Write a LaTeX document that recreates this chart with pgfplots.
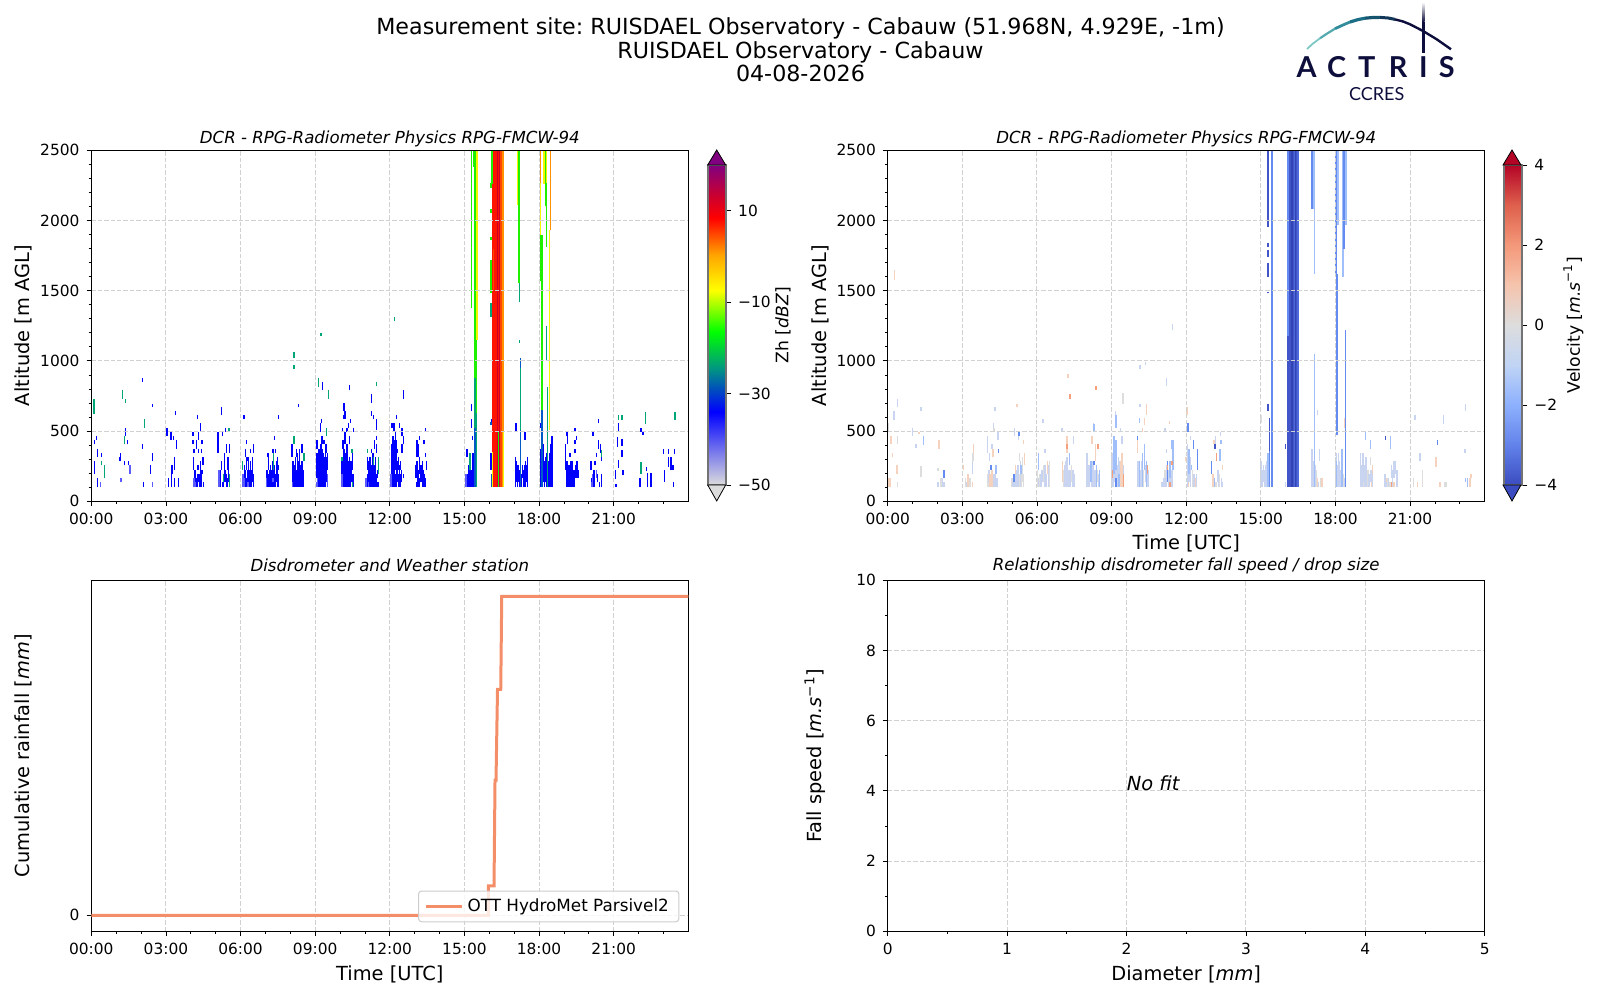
\documentclass[border=0pt]{standalone}
\usepackage{fontspec}
\setmainfont{DejaVu Sans}
\newfontfamily\logofont{Lato}
\usepackage{pgfplots}
\usepackage{pgfplotstable}
\pgfplotsset{compat=1.18}

\definecolor{zl}{RGB}{90,90,255}
\definecolor{zb}{RGB}{0,0,255}
\definecolor{zu}{RGB}{0,90,200}
\definecolor{zt}{RGB}{0,165,120}
\definecolor{zg}{RGB}{30,240,0}
\definecolor{zy}{RGB}{245,245,0}
\definecolor{zo}{RGB}{255,145,0}
\definecolor{zr}{RGB}{255,20,0}
\definecolor{zf}{RGB}{255,70,0}
\definecolor{zd}{RGB}{205,0,45}
\definecolor{vg}{RGB}{221,221,221}
\definecolor{vs}{RGB}{200,212,240}
\definecolor{vb}{RGB}{160,190,250}
\definecolor{vm}{RGB}{100,140,240}
\definecolor{vd}{RGB}{65,85,200}
\definecolor{vi}{RGB}{50,68,180}
\definecolor{vn}{RGB}{78,105,218}
\definecolor{vp}{RGB}{245,210,190}
\definecolor{vo}{RGB}{245,160,125}
\definecolor{rain}{RGB}{243,142,105}
\definecolor{navy}{RGB}{14,14,60}

\newcommand{\ticksize}{\fontsize{7.7}{9}\selectfont}
\newcommand{\labsize}{\fontsize{9.7}{11}\selectfont}
\newcommand{\titsize}{\fontsize{8.3}{10}\selectfont\itshape}
\frenchspacing

\pgfplotstableread{
t lo hi
.2 435 465
.13 405 435
.24 315 375
.4 315 345
.13 195 285
.24 105 165
1.18 285 345
1.14 285 315
1.34 255 285
1.5 255 285
1.38 465 525
1.45 405 435
2.06 375 405
2.47 285 345
2.39 195 255
2.1 105 135
2.06 850 875
2.47 675 695
3.05 465 525
3.2 435 495
3.3 435 465
3.42 375 435
3.35 225 315
3.25 195 255
3.22 105 195
3.1 105 165
3.35 105 165
3.5 105 165
3.39 615 645
4.1 225 315
4.08 465 495
4.08 405 435
4.32 435 495
4.24 375 435
4.45 405 435
4.32 345 370
4.12 345 370
4.42 345 370
4.49 255 315
4.4 225 285
4.29 225 255
4.45 195 225
4.18 135 225
4.26 105 195
4.34 105 195
4.42 105 195
4.5 105 135
4.4 495 555
4.27 585 615
4.14 105 225
4.22 105 165
4.3 135 195
4.38 105 255
5.24 615 675
5.1 345 495
5.4 495 525
5.27 465 495
5.56 345 405
5.44 345 405
5.36 225 345
5.23 225 285
5.5 225 315
5.16 105 195
5.44 105 195
5.47 105 165
5.28 105 135
5.12 105 135
5.2 105 225
5.32 105 135
5.38 135 225
5.52 135 225
6.14 585 615
6.23 405 435
6.2 315 375
6.4 345 375
6.52 345 405
6.23 225 315
6.3 285 315
6.47 225 315
6.4 225 285
6.2 105 225
6.28 105 225
6.35 105 225
6.43 105 225
6.52 105 195
6.16 135 255
6.24 105 165
6.32 105 285
6.39 105 255
6.48 135 255
7.37 435 465
7.53 585 615
7.3 345 375
7.41 345 375
7.1 315 345
7.13 225 315
7.48 255 315
7.08 105 225
7.16 105 225
7.24 105 225
7.32 105 225
7.4 105 195
7.48 105 225
7.53 105 195
7.05 135 225
7.12 105 195
7.2 105 255
7.28 105 285
7.36 105 255
7.44 135 285
7.51 225 255
8.34 675 695
8.07 315 405
8.24 315 375
8.38 315 375
8.47 345 405
8.3 285 345
8.11 225 285
8.2 225 315
8.38 225 315
8.11 105 225
8.19 105 195
8.27 105 225
8.35 105 195
8.43 105 195
8.51 105 225
8.08 105 195
8.15 105 255
8.23 105 225
8.31 135 285
8.39 105 255
8.47 135 285
9.3 793 850
9.25 555 585
9.22 495 555
9.27 405 465
9.07 375 435
9.36 405 435
9.15 345 375
9.25 345 405
9.43 345 405
9.12 105 315
9.18 105 315
9.27 105 345
9.34 105 345
9.41 105 345
9.49 225 345
9.08 165 345
9.15 165 375
9.22 105 405
9.3 105 375
9.38 105 315
9.45 135 315
10.15 640 700
10.2 585 640
10.39 790 825
10.43 555 585
10.33 525 555
10.28 495 525
10.15 585 615
10.1 495 525
10.55 495 525
10.2 405 495
10.39 405 465
10.12 375 435
10.28 315 405
10.18 105 315
10.26 105 315
10.35 105 285
10.43 105 285
10.5 225 345
10.12 105 225
10.08 135 285
10.15 165 375
10.22 105 345
10.3 105 345
10.38 105 315
10.46 135 285
10.52 105 195
11.27 700 765
11.27 610 640
11.35 585 615
11.47 510 585
11.39 375 435
11.47 435 465
11.27 345 375
11.47 345 405
11.1 225 315
11.2 105 315
11.43 225 315
11.12 105 195
11.29 105 225
11.37 105 195
11.45 105 195
11.53 105 135
11.1 105 165
11.16 135 285
11.24 105 255
11.33 105 345
11.41 135 255
11.5 165 225
12.56 730 793
12.28 585 615
12.09 525 555
12.17 495 555
12.39 525 555
12.49 465 525
12.22 375 495
12.13 315 465
12.54 405 465
12.3 345 375
12.49 345 405
12.09 105 375
12.17 105 435
12.25 225 435
12.34 225 315
12.42 225 285
12.25 105 195
12.34 105 195
12.44 105 195
12.55 165 195
12.06 135 405
12.13 105 285
12.2 135 405
12.29 135 285
12.38 105 255
12.47 135 225
13.44 495 525
13.2 435 465
13.38 405 435
13.16 315 405
13.1 315 435
13.43 315 345
13.1 225 285
13.2 195 315
13.31 195 285
13.47 225 285
13.1 105 135
13.18 105 165
13.34 105 225
13.44 105 165
13.06 165 255
13.14 135 225
13.25 135 255
13.4 105 195
15.29 640 695
15.29 525 585
15.32 435 465
15.1 315 375
15.32 225 315
15.4 105 345
15.13 105 195
15.22 105 225
15.31 105 225
15.06 135 195
15.16 105 255
15.25 135 285
15.35 105 345
16.06 225 345
16.1 555 585
17.08 495 555
17.43 435 495
17.05 105 315
17.13 105 255
17.21 105 225
17.3 105 195
17.37 105 225
17.46 105 285
17.54 105 315
17.09 135 285
17.17 135 255
17.25 105 195
17.33 165 255
17.41 105 255
17.5 135 255
18.05 105 375
18.05 525 555
18.14 105 315
18.22 105 285
18.3 105 345
18.38 105 285
18.45 105 405
18.52 105 465
18.09 105 345
18.18 135 405
18.26 135 315
18.34 105 375
18.42 105 345
18.49 135 405
19.13 465 495
19.07 225 405
19.15 405 465
19.25 315 345
19.13 105 285
19.2 105 225
19.28 105 285
19.35 225 285
19.45 405 435
19.5 435 465
19.44 345 375
19.52 225 285
19.37 105 195
19.44 495 525
19.1 135 285
19.17 105 255
19.24 135 255
19.32 105 255
19.4 105 225
19.48 165 255
19.56 165 225
20.16 465 495
20.38 555 585
20.3 315 345
20.38 375 435
20.08 225 285
20.25 255 285
20.48 345 405
20.5 285 315
20.42 105 135
20.5 105 195
20.12 105 165
20.2 105 225
20.35 135 195
21.2 495 555
21.15 385 460
21.33 395 445
21.33 315 365
21.2 235 295
21.07 160 225
21.38 185 220
21.1 105 125
22.1 495 520
22.18 475 495
22.33 215 245
22.05 105 165
22.37 105 205
22.5 105 205
23 340 370
23.2 340 370
23.45 340 370
23.2 245 315
23.3 220 315
23.38 220 255
23.05 135 220
23.4 105 135
}\zhblue

\pgfplotstableread{
t lo hi
.38 105 135
1.2 135 165
1.55 195 255
2.45 105 135
4.12 105 165
4.2 105 135
5.13 105 225
6.1 105 195
6.13 105 165
6.3 105 135
7.05 105 165
7.3 135 165
8.09 105 135
9.1 105 165
9.5 105 195
9.07 105 135
10.08 105 195
11.15 105 135
11.05 105 165
12.05 105 195
15.07 105 195
15.04 105 165
20.15 105 195
20.1 105 135
20.3 165 225
}\zhlight

\pgfplotstableread{
t lo hi
.1 620 730
.4 255 285
.53 165 255
1.34 405 465
1.26 730 790
1.38 700 730
2.14 525 585
5.32 135 195
5.53 495 525
5.56 105 195
6.08 225 285
7.33 225 345
8.14 405 465
8.55 285 345
9.14 815 875
9.54 730 795
9.45 465 520
10.08 285 315
10.48 345 375
10.5 105 135
11.1 345 375
11.35 255 315
11.47 822 852
11.55 195 315
8.15 1020 1065
8.15 940 970
9.23 1176 1200
12.19 1285 1315
22.27 553 637
22.1 197 280
21.2 577 612
21.33 577 612
23.47 577 637
20.5 315 365
15.22 225 345
15.43 520 875
15.48 105 630
17.21 1420 1552
17.25 508 982
17.21 1130 1150
18.33 105 816
18.3 1000 1250
16.06 1315 1410
}\zhteal

\pgfplotstableread{
t lo hi
15.43 105 520
17.25 105 508
17.25 947 1018
18.12 105 650
16.06 540 565
16.08 105 195
}\zhdeep

\pgfplotstableread{
t lo hi
15.29 1374 2500
15.36 2383 2500
15.43 875 2500
15.48 630 1150
16.06 2230 2265
16.06 2050 2085
16.06 1860 1885
16.06 1480 1720
16.11 2260 2500
17.2 1552 2500
18.12 650 1900
18.05 1570 1900
18.3 1813 2264
18.25 2100 2500
}\zhgreen

\pgfplotstableread{
t lo hi
15.5 1150 2500
16.12 105 350
16.57 105 500
17.13 2110 2500
18.05 1900 2264
18.2 2260 2500
18.42 508 1932
18.3 2264 2500
}\zhyellow

\pgfplotstableread{
t lo hi
16.52 105 2500
16.57 500 2500
18.05 2264 2500
18.45 1932 2500
}\zhorange

\pgfplotstableread{
t lo hi
16.12 350 2260
16.17 105 2500
16.22 105 2500
16.27 105 2500
16.37 500 2500
}\zhred

\pgfplotstableread{
t lo hi
16.47 105 2500
16.17 1500 1800
}\zhflame

\pgfplotstableread{
t lo hi
16.32 105 2500
16.42 105 2500
}\zhdark

\pgfplotstableread{
t lo hi
16.37 105 500
}\zhgreenlow

\pgfplotstableread{
t lo hi
.4 105 135
.4 405 465
.02 495 555
2.14 105 165
2.03 215 235
1.34 170 250
3.12 105 165
3.3 105 165
3.43 285 345
4.04 105 195
4.36 105 165
4.28 495 525
4.24 105 165
5 105 165
5.2 105 195
5.3 105 195
5.38 105 195
5.45 105 195
5.3 285 345
5.42 135 315
6.1 105 195
6.26 135 255
6.5 105 285
6.02 105 225
7.06 105 225
7.39 135 255
8.14 135 225
8.44 135 225
9.46 695 770
9.4 105 225
10.29 105 225
11.15 105 225
11.28 105 195
12.25 105 225
13.2 105 135
13.34 105 195
15 555 615
17.2 105 195
17.4 105 165
17.24 105 225
17.42 105 165
18.31 105 195
19.12 105 285
19.3 105 225
19.4 255 315
19.28 105 225
20.1 105 165
20.2 105 135
20.45 105 195
21.13 105 165
21.5 105 225
22.38 105 135
22.45 105 135
}\vgray

\pgfplotstableread{
t lo hi
.25 580 645
.4 675 730
1 465 520
1.14 380 405
1.34 645 675
2.02 105 135
2.2 105 165
2.26 105 135
3.4 195 285
3.17 105 135
4.02 345 465
4.28 105 195
4.1 285 345
4.2 375 405
4.43 435 495
4.32 645 675
4.26 525 555
4.08 135 225
4.16 105 195
4.33 105 225
4.4 105 165
5.06 105 195
5.25 435 495
5.1 465 525
5.03 105 135
5.1 105 165
5.16 105 225
5.24 105 255
5.34 105 285
6.18 105 225
6.33 105 255
6.32 345 375
6.25 555 585
6.06 105 165
6.14 105 195
6.22 135 225
6.3 105 225
6.38 105 195
6.46 105 255
7.1 105 255
7.17 105 285
7.25 105 225
7.35 105 225
7.43 105 225
7.5 105 195
7.47 405 465
7 495 520
7.13 105 255
7.21 105 315
7.29 105 225
7.47 105 225
8.02 105 345
8.1 105 255
8.25 105 255
8.47 105 195
8.27 525 555
8.06 105 225
8.21 105 285
8.29 105 195
8.33 105 225
8.36 105 195
9.02 105 345
9.25 105 255
9.15 615 645
9.35 495 525
9.42 405 465
9.06 105 285
9.13 135 345
9.21 135 255
9.28 195 315
9.33 135 285
9.46 135 255
10.18 105 225
10.47 105 225
10.15 675 695
10.07 105 285
10.15 105 225
10.22 135 285
10.36 135 255
10.44 105 195
11.02 105 135
11.1 105 165
11.3 105 225
11.2 345 375
11.2 823 880
11.14 495 525
11.06 105 135
11.18 105 165
11.22 135 255
11.38 105 225
11.45 105 225
12.05 105 405
12.18 105 285
12.32 105 195
12.17 435 465
12.09 105 285
12.15 135 315
12.36 105 135
12.42 105 195
13.18 375 465
13.3 105 225
13.38 465 495
13.45 105 135
13.05 105 195
13.1 105 165
13.26 135 225
13.42 105 165
15 105 285
15.07 105 225
15.14 105 195
15.2 105 255
15.04 105 225
15.1 135 255
15.17 105 225
15.24 105 285
15.32 105 225
16 105 135
17.05 105 375
17.1 105 225
17.35 285 375
17.28 615 650
17.07 105 225
17.13 135 285
17.18 105 255
17.32 105 135
18.02 105 315
18.12 105 345
18.2 105 225
18.05 105 345
18.08 105 255
18.15 105 285
18.24 105 225
18.36 105 165
19 105 345
19.07 105 225
19.18 105 255
19.25 105 165
19.35 105 195
19.03 105 255
19.1 135 345
19.16 105 225
19.22 135 315
19.33 105 165
19.42 135 225
19.47 105 195
20 105 195
20.25 165 255
20.4 195 285
20.06 105 165
20.14 105 165
20.3 105 225
20.35 165 285
20.47 105 225
21.2 580 612
21.4 285 345
22.35 553 612
23.23 645 695
23.2 345 375
11.45 1220 1260
10.15 940 970
10.36 970 993
}\vpale

\pgfplotstableread{
t lo hi
1.43 400 465
4.36 195 255
5.36 195 255
6.07 225 345
7.3 255 345
8.17 135 285
8.4 105 255
8.52 105 225
8.3 495 550
9.1 195 465
9.17 225 435
9.3 105 195
9.18 525 615
10.12 105 285
10.25 105 345
10.33 225 405
10.4 105 285
10.13 560 590
11.35 165 285
11.47 225 435
11.42 375 435
12.12 195 375
12.22 225 255
13.13 105 165
13.36 285 375
13.4 405 435
15.28 105 345
17.1 2085 2500
17.15 105 1050
17.15 1620 2500
18 1620 2500
18.1 1965 2500
18.05 105 285
18.27 105 375
18.35 1965 2500
18.3 1600 2500
18.42 1965 2500
19.4 375 435
19.2 435 495
20.22 375 465
23.3 105 165
23.23 135 165
}\vlight

\pgfplotstableread{
t lo hi
2.26 165 225
4.16 225 255
4.45 345 375
5.07 135 195
5.27 465 495
8.3 255 285
9.17 105 165
10.05 405 465
11.25 135 285
12.08 495 555
12.3 375 435
12.45 225 375
13.02 195 285
15.35 105 355
15.42 105 2500
15.47 105 2500
16.1 1180 2500
16.52 105 2500
17.05 2085 2500
18.03 1620 2500
18.07 470 1620
18.4 105 1220
18.34 1800 2500
22.1 400 435
}\vmid

\pgfplotstableread{
t lo hi
13.16 375 405
15.28 1955 2500
15.28 1810 1840
15.28 1740 1790
15.28 1600 1695
15.28 1480 1490
15.28 640 695
15.35 355 590
16 375 405
16.15 105 2500
16.2 105 2500
16.3 105 2500
16.45 105 2500
16.1 105 1180
20.02 435 465
}\vdark

\pgfplotstableread{
t lo hi
16.25 105 2500
16.4 105 2500
}\vdeep

\pgfplotstableread{
t lo hi
16.35 105 2500
16.5 105 2500
}\vnavy

\pgfplotstableread{
t lo hi
.05 105 165
.12 105 165
.2 315 345
.13 405 465
.37 195 255
.28 1575 1646
1.26 480 495
2.06 375 435
3.2 105 195
3.25 105 195
3.4 105 135
3.45 345 405
3.05 225 255
4.12 105 195
4.2 105 225
4.24 315 375
5.13 195 255
5.5 255 345
5.45 405 435
5.2 675 695
6.42 195 285
7.02 135 285
7.2 345 465
7.25 880 910
8.35 285 405
8.22 405 465
9.37 105 285
9.42 105 345
10.05 345 435
10.33 540 590
10.4 615 695
10.25 495 525
11.33 550 570
12 285 315
12.03 615 675
12.1 105 135
12.38 105 165
13.08 105 195
13.12 405 435
13.45 225 255
17.28 105 165
17.45 105 165
18.36 525 590
19.45 105 135
19.5 195 255
20.35 105 135
20.05 135 165
21.3 105 135
22.05 245 315
22.2 105 135
23.4 105 165
23.45 165 195
}\vpeach

\pgfplotstableread{
t lo hi
7.2 375 405
7.33 730 765
8.38 793 823
8.45 375 405
9.04 165 225
9.48 105 195
10.45 195 255
11.43 255 285
11.35 105 135
11.25 225 255
13.22 285 345
20.25 105 135
}\vorange

% one coloured column per table row, from lo to hi
\newcommand{\cells}[2]{\addplot[draw=none,mark=none,forget plot,
  error bars/.cd,y dir=plus,y explicit,error mark=none,
  error bar style={solid,line width=.72pt,color=#1}]
  table[x=t,y=lo,y error plus expr=\thisrow{hi}-\thisrow{lo}] {#2};}

\pgfplotsset{
  panel/.style={
    scale only axis,width=298.5pt,height=175.5pt,anchor=south west,
    tick align=outside,tick pos=left,
    axis line style={line width=.5pt},
    major tick length=2.4pt,minor tick length=1.4pt,
    every tick/.style={black,line width=.4pt},
    grid=major,
    major grid style={dash pattern=on 2.2pt off 1pt,line width=.5pt,color=black!18},
    tick label style={font=\ticksize},
    label style={font=\labsize},
    /pgf/number format/assume math mode=true,
    /pgf/number format/1000 sep={},
    title style={font=\titsize,at={(axis description cs:.5,1.037)},anchor=center},
    ylabel style={at={(axis description cs:-.113,.5)},anchor=center},
  },
  timeaxis/.style={
    xmin=0,xmax=24,xtick={0,3,...,21},
    xticklabels={00:00,03:00,06:00,09:00,12:00,15:00,18:00,21:00},
    minor xtick={0,1,...,23},
  },
  radar/.style={
    panel,timeaxis,axis on top,ymin=0,ymax=2500,ytick={0,500,...,2500},
    minor ytick={0,100,...,2500},ylabel={Altitude [m AGL]},
    title={DCR - RPG-Radiometer Physics RPG-FMCW-94},
    title style={yshift=-6.6pt},
  },
  bar/.style={
    colorbar,
    colorbar style={
      at={(parent axis.south east)},anchor=south west,
      xshift=#1,yshift=8.15pt,width=9pt,height=160pt,
      axis line style={color=black!55,line width=.6pt},
      tick label style={font=\ticksize},
      ylabel style={font=\fontsize{8.6}{10}\selectfont,anchor=center},
      tick align=outside,ytick pos=right,yticklabel pos=right,
      major tick length=2.6pt,
      every tick/.style={black,line width=.4pt},
    },
  },
  colormap={zhmap}{rgb255(0pt)=(220,220,220); rgb255(16pt)=(0,0,255); rgb255(25.5pt)=(0,150,130);
    rgb255(33.5pt)=(0,255,0); rgb255(42.6pt)=(255,255,0); rgb255(50.3pt)=(255,165,0);
    rgb255(58.4pt)=(255,0,0); rgb255(63.5pt)=(200,0,50); rgb255(70pt)=(128,0,128)},
  colormap={velmap}{rgb255(0pt)=(59,76,192); rgb255(1pt)=(98,130,234); rgb255(2pt)=(141,176,254);
    rgb255(3pt)=(192,212,245); rgb255(4pt)=(221,221,221); rgb255(5pt)=(245,196,173);
    rgb255(6pt)=(244,152,122); rgb255(7pt)=(222,96,77); rgb255(8pt)=(180,4,38)},
}

\begin{document}
\begin{tikzpicture}[x=1pt,y=1pt]
\path[use as bounding box] (0,0) rectangle (800pt,500pt);

\begin{axis}[radar,at={(45.65pt,249.35pt)},
  colormap name=zhmap,point meta min=-50,point meta max=20,bar=1.3pt,
  colorbar style={ytick={-50,-30,-10,10},yticklabels={−50,−30,−10,10},
    ylabel={Zh [\textit{dBZ}]},ylabel style={at={(axis description cs:4.17,.5)}}},
]
\cells{zb}{\zhblue}
\cells{zl}{\zhlight}
\cells{zt}{\zhteal}
\cells{zu}{\zhdeep}
\cells{zg}{\zhgreen}
\cells{zy}{\zhyellow}
\cells{zo}{\zhorange}
\cells{zr}{\zhred}
\cells{zf}{\zhflame}
\cells{zd}{\zhdark}
\cells{zg}{\zhgreenlow}
\end{axis}

\begin{axis}[radar,at={(443.85pt,249.35pt)},
  xlabel={Time [UTC]},xlabel style={at={(axis description cs:.5,-.12)},anchor=center},
  colormap name=velmap,point meta min=-4,point meta max=4,bar=1.15pt,
  colorbar style={ytick={-4,-2,0,2,4},yticklabels={−4,−2,0,2,4},
    ylabel={Velocity [\textit{m.s}\textsuperscript{−1}]},ylabel style={at={(axis description cs:3.85,.5)}}},
]
\cells{vg}{\vgray}
\cells{vs}{\vpale}
\cells{vb}{\vlight}
\cells{vm}{\vmid}
\cells{vd}{\vdark}
\cells{vi}{\vdeep}
\cells{vn}{\vnavy}
\cells{vp}{\vpeach}
\cells{vo}{\vorange}
\end{axis}

\begin{axis}[panel,timeaxis,at={(45.65pt,34.35pt)},
  title={Disdrometer and Weather station},
  title style={at={(axis description cs:.5,1.034)},yshift=-4.6pt},
  ymin=-.05,ymax=1.05,ytick={0},
  xlabel={Time [UTC]},xlabel style={at={(axis description cs:.5,-.1225)},anchor=center},
  ylabel={Cumulative rainfall [\textit{mm}]},
  legend style={at={(axis description cs:.985,.0256)},anchor=south east,
    font=\fontsize{8.4}{10}\selectfont,draw=black!20,fill=white,fill opacity=.8,text opacity=1,
    rounded corners=1.5pt,line width=.5pt,inner xsep=3pt,inner ysep=1.75pt},
  legend cell align=left,
  legend image code/.code={\draw[#1] (0cm,0cm) -- (18pt,0cm);},
]
\addplot[color=rain,line width=1.5pt,line join=miter] coordinates {
  (0,0)(15.96,0)(15.96,.092)(16.19,.092)(16.23,.424)(16.27,.424)
  (16.33,.708)(16.46,.708)(16.5,1)(24,1)};
\addlegendentry{OTT HydroMet Parsivel2}
\end{axis}

\begin{axis}[panel,at={(443.85pt,34.35pt)},
  title={Relationship disdrometer fall speed / drop size},
  title style={at={(axis description cs:.5,1.034)},yshift=-4.6pt},
  xmin=0,xmax=5,ymin=0,ymax=10,
  xtick={0,1,...,5},ytick={0,2,...,10},
  minor xtick={0,.5,...,5},minor ytick={0,1,...,10},
  xlabel={Diameter [\textit{mm}]},xlabel style={at={(axis description cs:.5,-.1225)},anchor=center},
  ylabel={Fall speed [\textit{m.s}\textsuperscript{−1}]},
  ylabel style={at={(axis description cs:-.1215,.5)}},
]
\node[anchor=base west,inner sep=0pt,font=\fontsize{9.7}{11}\selectfont\itshape] at (axis cs:2,4) {No fit};
\end{axis}

% everything below is placed in reference pixels, from the top left corner
\begin{scope}[x=.5pt,y=-.5pt,yshift=500pt]
\node[anchor=base,inner sep=0pt,font=\fontsize{11.1}{13}\selectfont] at (800.5,34.7) {Measurement site: RUISDAEL Observatory - Cabauw (51.968N, 4.929E, -1m)};
\node[anchor=base,inner sep=0pt,font=\fontsize{11.1}{13}\selectfont] at (800.5,58.2) {RUISDAEL Observatory - Cabauw};
\node[anchor=base,inner sep=0pt,font=\fontsize{11.1}{13}\selectfont] at (800.5,81.6) {04-08-2026};

% colour bar end caps
\filldraw[fill={rgb,255:red,128;green,0;blue,128},draw=black,line width=.4pt] (707.7,165)--(716.7,150)--(725.7,165)--cycle;
\filldraw[fill={rgb,255:red,220;green,220;blue,220},draw=black,line width=.4pt] (707.7,485)--(716.7,501)--(725.7,485)--cycle;
\filldraw[fill={rgb,255:red,180;green,4;blue,38},draw=black,line width=.4pt] (1503,165)--(1512,150)--(1521,165)--cycle;
\filldraw[fill={rgb,255:red,59;green,76;blue,192},draw=black,line width=.4pt] (1503,485)--(1512,501)--(1521,485)--cycle;

% logo
\draw[line width=.9pt,color={rgb,255:red,125;green,200;blue,198}] (1307,49)--(1313,43.5)--(1320,38.3);
\draw[line width=1.1pt,color={rgb,255:red,85;green,170;blue,175}] (1320,38.3)--(1328,33)--(1335,28.7);
\draw[line width=1.4pt,color={rgb,255:red,50;green,140;blue,155}] (1335,28.7)--(1343,25)--(1350,22);
\draw[line width=1.6pt,color={rgb,255:red,28;green,110;blue,135}] (1350,22)--(1358,19.6)--(1365,18.2);
\draw[line width=1.6pt,color={rgb,255:red,22;green,85;blue,112}] (1365,18.2)--(1373,17.5)--(1380,17.4);
\draw[line width=1.5pt,color={rgb,255:red,18;green,55;blue,88}] (1380,17.4)--(1388,18)--(1395,19.4);
\draw[line width=1.2pt,color=navy] (1395,19.4)--(1403,21.5)--(1410,24.3)--(1423,31)--(1437,39.5)--(1451,49.3);
\shade[top color=white,bottom color=navy] (1422,2) rectangle (1424.6,22);
\fill[navy] (1422,22) rectangle (1424.6,53);
\foreach \ch/\px in {A/1306.7,C/1336.7,T/1366.7,R/1398,I/1423.3,S/1446.7}
  \node[anchor=base,inner sep=0pt,text=navy,font=\logofont\bfseries\fontsize{14.4}{16}\selectfont] at (\px,78) {\ch};
\node[anchor=base,inner sep=0pt,text=navy,font=\logofont\fontsize{9}{11}\selectfont] at (1376.7,100.5) {CCRES};
\end{scope}
\end{tikzpicture}
\end{document}
